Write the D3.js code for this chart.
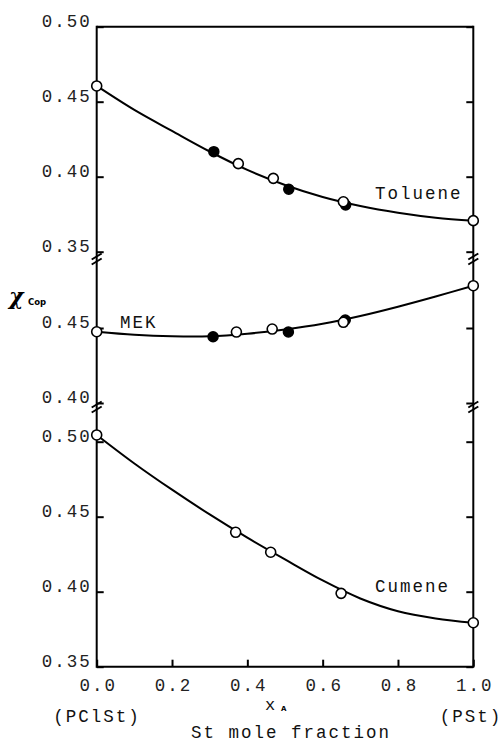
<!DOCTYPE html>
<html><head><meta charset="utf-8">
<script src="https://cdn.jsdelivr.net/npm/d3@7"></script>
<style>body{margin:0;background:#fff}svg{display:block}</style>
</head><body><svg id="c" width="503" height="743"></svg>
<script>
// ---- data ----
const xTicks = [0, 0.2, 0.4, 0.6, 0.8, 1.0];
const xTickLabels = ["0.0", "0.2", "0.4", "0.6", "0.8", "1.0"];
const topTicks = [0.35, 0.40, 0.45, 0.50];
const midTicks = [0.40, 0.45];
const botTicks = [0.35, 0.40, 0.45, 0.50];

const tolOpenX = [0, 0.376, 0.469, 0.655, 1.0];
const tolOpenY = [0.4605, 0.4087, 0.3989, 0.3833, 0.3707];
const tolFillX = [0.311, 0.510, 0.661];
const tolFillY = [0.4167, 0.3916, 0.3811];
const tolCurveX = [0, 0.1, 0.2, 0.3, 0.4, 0.5, 0.6, 0.7, 0.8, 0.9, 1.0];
const tolCurveY = [0.4605, 0.4445, 0.4305, 0.4168, 0.4045, 0.3945, 0.3865, 0.3805, 0.3760, 0.3727, 0.3707];

const mekOpenX = [0, 0.371, 0.466, 0.655, 1.0];
const mekOpenY = [0.4475, 0.4473, 0.4493, 0.4538, 0.4782];
const mekFillX = [0.309, 0.509, 0.660];
const mekFillY = [0.4442, 0.4473, 0.4553];
const mekCurveX = [0, 0.1, 0.2, 0.3, 0.4, 0.5, 0.6, 0.7, 0.8, 0.9, 1.0];
const mekCurveY = [0.4475, 0.4455, 0.4445, 0.4445, 0.4462, 0.4490, 0.4528, 0.4580, 0.4642, 0.4710, 0.4782];

const cumOpenX = [0, 0.369, 0.462, 0.649, 1.0];
const cumOpenY = [0.5045, 0.4396, 0.4263, 0.3989, 0.3793];
const cumCurveX = [0, 0.1, 0.2, 0.3, 0.4, 0.5, 0.6, 0.7, 0.8, 0.9, 1.0];
const cumCurveY = [0.5045, 0.4855, 0.4680, 0.4515, 0.4360, 0.4215, 0.4075, 0.3955, 0.3870, 0.3822, 0.3793];

// ---- layout ----
const svg = d3.select("#c");
const L = 96.7, R = 473.3, T = 26.7, B = 666.7;
const x = d3.scaleLinear([0, 1], [L, R]);
const topY = d3.scaleLinear([0.35, 0.50], [251.7, 26.7]);
const midY = d3.scaleLinear([0.40, 0.45], [403.0, 328.0]);
const botY = d3.scaleLinear([0.35, 0.50], [666.7, 441.7]);
const FONT = "'Liberation Mono','DejaVu Sans Mono',monospace";
const fmt = d3.format(".2f");

// frame
const frame = svg.append("g").attr("stroke", "#000").attr("stroke-width", 2).attr("fill", "none");
frame.append("line").attr("x1", L).attr("x2", R).attr("y1", T).attr("y2", T);
frame.append("line").attr("x1", L).attr("x2", R).attr("y1", B).attr("y2", B);
frame.append("line").attr("x1", L).attr("x2", L).attr("y1", T - 1).attr("y2", B + 1);
frame.append("line").attr("x1", R).attr("x2", R).attr("y1", T - 1).attr("y2", B + 1);

function yAxes(scale, ticks) {
  const gl = svg.append("g").attr("transform", `translate(${L},0)`)
    .call(d3.axisLeft(scale).tickValues(ticks).tickSizeInner(-7).tickSizeOuter(0).tickPadding(7).tickFormat(fmt));
  gl.select(".domain").remove();
  gl.selectAll("line").attr("stroke", "#000").attr("stroke-width", 2);
  gl.selectAll("text").attr("font-family", FONT).attr("font-size", 17.5)
    .attr("letter-spacing", 2).attr("fill", "#222").attr("y", -6).attr("dx", 2);
  const gr = svg.append("g").attr("transform", `translate(${R},0)`)
    .call(d3.axisRight(scale).tickValues(ticks).tickSizeInner(-7).tickSizeOuter(0).tickFormat(""));
  gr.select(".domain").remove();
  gr.selectAll("line").attr("stroke", "#000").attr("stroke-width", 2);
}
yAxes(topY, topTicks);
yAxes(midY, midTicks);
yAxes(botY, botTicks);

// x axis
const gx = svg.append("g").attr("transform", `translate(0,${B})`)
  .call(d3.axisBottom(x).tickValues(xTicks).tickSizeInner(-7).tickSizeOuter(0).tickPadding(12)
    .tickFormat((d, i) => xTickLabels[i]));
gx.select(".domain").remove();
gx.selectAll("line").attr("stroke", "#000").attr("stroke-width", 2);
gx.selectAll("text").attr("font-family", FONT).attr("font-size", 17.5)
  .attr("letter-spacing", 2).attr("fill", "#222").attr("dx", 1);

// axis breaks
const breaks = [259, 407];
[L, R].forEach(ax => {
  breaks.forEach(by => {
    [-2.5, 2.5].forEach(off => {
      svg.append("line").attr("x1", ax - 5).attr("x2", ax + 5)
        .attr("y1", by + off + 3).attr("y2", by + off - 3)
        .attr("stroke", "#000").attr("stroke-width", 2);
    });
  });
});

// series
function series(scale, cx, cy, fx, fy, ox, oy) {
  const pts = cx.map((d, i) => [x(d), scale(cy[i])]);
  svg.append("path").attr("d", d3.line().curve(d3.curveCatmullRom.alpha(0.5))(pts))
    .attr("fill", "none").attr("stroke", "#000").attr("stroke-width", 2);
  fx.forEach((d, i) => svg.append("circle").attr("cx", x(d)).attr("cy", scale(fy[i])).attr("r", 5)
    .attr("fill", "#000").attr("stroke", "#000").attr("stroke-width", 1.5));
  ox.forEach((d, i) => svg.append("circle").attr("cx", x(d)).attr("cy", scale(oy[i])).attr("r", 5)
    .attr("fill", "#fff").attr("stroke", "#000").attr("stroke-width", 1.6));
}
series(topY, tolCurveX, tolCurveY, tolFillX, tolFillY, tolOpenX, tolOpenY);
series(midY, mekCurveX, mekCurveY, mekFillX, mekFillY, mekOpenX, mekOpenY);
series(botY, cumCurveX, cumCurveY, [], [], cumOpenX, cumOpenY);

// labels
function txt(s, tx, ty, anchor, size) {
  return svg.append("text").attr("x", tx).attr("y", ty).attr("text-anchor", anchor || "start")
    .attr("font-family", FONT).attr("font-size", size || 17.5).attr("letter-spacing", 2)
    .attr("fill", "#111").text(s);
}
txt("Toluene", 375, 199);
txt("MEK", 120, 328);
txt("Cumene", 375, 592);
txt("(PClSt)", 97, 722, "middle");
txt("(PSt)", 471, 722, "middle");
txt("St mole fraction", 291, 738, "middle");
txt("x", 265, 710, "start", 17);
svg.append("text").attr("x", 281).attr("y", 711).attr("font-family", "'DejaVu Sans',sans-serif")
  .attr("font-size", 7).attr("font-weight", "bold").text("A");

// y label
svg.append("text").attr("x", 9).attr("y", 304).attr("font-family", "'DejaVu Serif',serif")
  .attr("font-style", "italic").attr("font-weight", "bold").attr("font-size", 22).text("χ");
svg.append("text").attr("x", 28).attr("y", 305).attr("font-family", "'DejaVu Sans',sans-serif")
  .attr("font-weight", "bold").attr("font-size", 8.5).text("Cop");
</script></body></html>
